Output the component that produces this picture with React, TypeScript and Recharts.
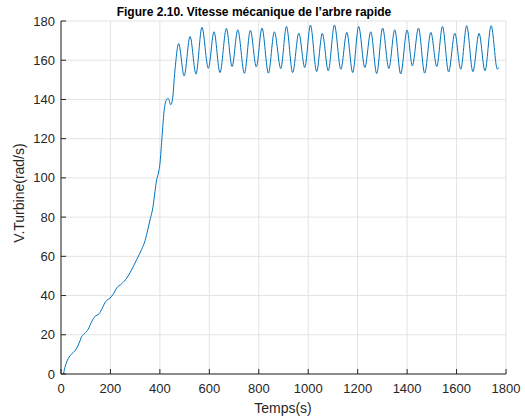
import { CartesianGrid, Line, LineChart, XAxis, YAxis } from "recharts";

const timeS = [
  10, 16, 30, 43, 57, 70, 84, 97, 110, 124, 137, 154, 167, 181, 198, 212, 225, 245, 266, 286,
  306, 326, 340, 351, 360, 373, 380, 387, 395, 400, 407, 417, 427, 434, 444, 451, 461, 476, 498,
  522, 546, 570, 596, 619, 643, 669, 692, 715, 742, 766, 790, 813, 839, 863, 889, 912, 937, 962,
  986, 1009, 1034, 1057, 1081, 1106, 1132, 1156, 1180, 1204, 1229, 1253, 1277, 1301, 1326, 1350,
  1374, 1400, 1421, 1446, 1471, 1496, 1520, 1543, 1568, 1593, 1617, 1641, 1666, 1691, 1715, 1740,
  1765, 1770,
];

const turbineSpeed = [
  0, 3.4, 8, 10.2, 11.9, 14.8, 19.1, 20.8, 22.8, 26.7, 29.3, 30.7, 33.6, 37, 38.7, 40.9, 43.8, 46,
  48.9, 53.2, 58.3, 63.5, 68, 73.6, 78.5, 86, 93, 99, 103, 107, 118, 134, 140, 140.5, 137.3, 140,
  155, 168.5, 152, 172.1, 152.9, 176.7, 155.9, 174.5, 153.7, 176.2, 156.8, 175.5, 153.3, 175.2,
  156.6, 176.4, 153.4, 174.5, 155.8, 177.2, 153.7, 173.8, 156.3, 177.9, 154.2, 173.7, 154.6, 177.9,
  155.4, 174.2, 153.7, 177.2, 156.3, 174.5, 153.2, 176.4, 155.8, 175.5, 153, 175.4, 157.1, 176.4,
  153.4, 174.2, 156.8, 177.2, 154, 173.8, 155.4, 177.6, 154.2, 173.7, 154.6, 177.6, 155.4, 156.3,
];

const xTicks = [0, 200, 400, 600, 800, 1000, 1200, 1400, 1600, 1800];
const yTicks = [0, 20, 40, 60, 80, 100, 120, 140, 160, 180];

const data = timeS.map((t, i) => ({ t, v: turbineSpeed[i] }));

const AXIS = "#262626";
const FONT = "'Liberation Sans', Arial, Helvetica, sans-serif";

function BottomTick({ x, y, payload }: any) {
  return (
    <g>
      <line x1={x} y1={y} x2={x} y2={y - 5} stroke={AXIS} />
      <text x={x} y={y + 19} textAnchor="middle" fontSize={13} fill={AXIS} fontFamily={FONT}>
        {payload.value}
      </text>
    </g>
  );
}

function TopTick({ x, y }: any) {
  return <line x1={x} y1={y} x2={x} y2={y + 5} stroke={AXIS} />;
}

function LeftTick({ x, y, payload }: any) {
  return (
    <g>
      <line x1={x} y1={y} x2={x + 5} y2={y} stroke={AXIS} />
      <text x={x - 6} y={y + 4.5} textAnchor="end" fontSize={13} fill={AXIS} fontFamily={FONT}>
        {payload.value}
      </text>
    </g>
  );
}

function RightTick({ x, y }: any) {
  return <line x1={x} y1={y} x2={x - 5} y2={y} stroke={AXIS} />;
}

export default function App() {
  return (
    <div style={{ position: "absolute", left: 0, top: 0, width: 525, height: 419, background: "#fff" }}>
      <LineChart width={525} height={419} data={data} margin={{ top: 21, right: 19, bottom: 0, left: 0 }}>
        <CartesianGrid stroke="#e3e3e3" />
        <XAxis
          dataKey="t"
          type="number"
          domain={[0, 1800]}
          ticks={xTicks}
          interval={0}
          height={45}
          tickSize={0}
          tickMargin={0}
          tickLine={false}
          axisLine={{ stroke: AXIS }}
          tick={<BottomTick />}
        />
        <XAxis
          xAxisId="top"
          orientation="top"
          dataKey="t"
          type="number"
          domain={[0, 1800]}
          ticks={xTicks}
          interval={0}
          height={0}
          tickSize={0}
          tickMargin={0}
          tickLine={false}
          axisLine={{ stroke: AXIS }}
          tick={<TopTick />}
        />
        <YAxis
          type="number"
          domain={[0, 180]}
          ticks={yTicks}
          interval={0}
          width={61}
          tickSize={0}
          tickMargin={0}
          tickLine={false}
          axisLine={{ stroke: AXIS }}
          tick={<LeftTick />}
        />
        <YAxis
          yAxisId="right"
          orientation="right"
          type="number"
          domain={[0, 180]}
          ticks={yTicks}
          interval={0}
          width={0}
          tickSize={0}
          tickMargin={0}
          tickLine={false}
          axisLine={{ stroke: AXIS }}
          tick={<RightTick />}
        />
        <Line
          type="monotone"
          dataKey="v"
          stroke="#0072BD"
          strokeWidth={1}
          dot={false}
          isAnimationActive={false}
        />
        <text x={254} y={16} textAnchor="middle" fontSize={12} fontWeight="bold" fill="#000" fontFamily={FONT}>
          Figure 2.10. Vitesse mécanique de l’arbre rapide
        </text>
        <text x={283} y={413} textAnchor="middle" fontSize={14} fill={AXIS} fontFamily={FONT}>
          Temps(s)
        </text>
        <text
          x={24}
          y={193}
          textAnchor="middle"
          fontSize={14}
          fill={AXIS}
          fontFamily={FONT}
          transform="rotate(-90 24 193)"
        >
          V.Turbine(rad/s)
        </text>
      </LineChart>
    </div>
  );
}
